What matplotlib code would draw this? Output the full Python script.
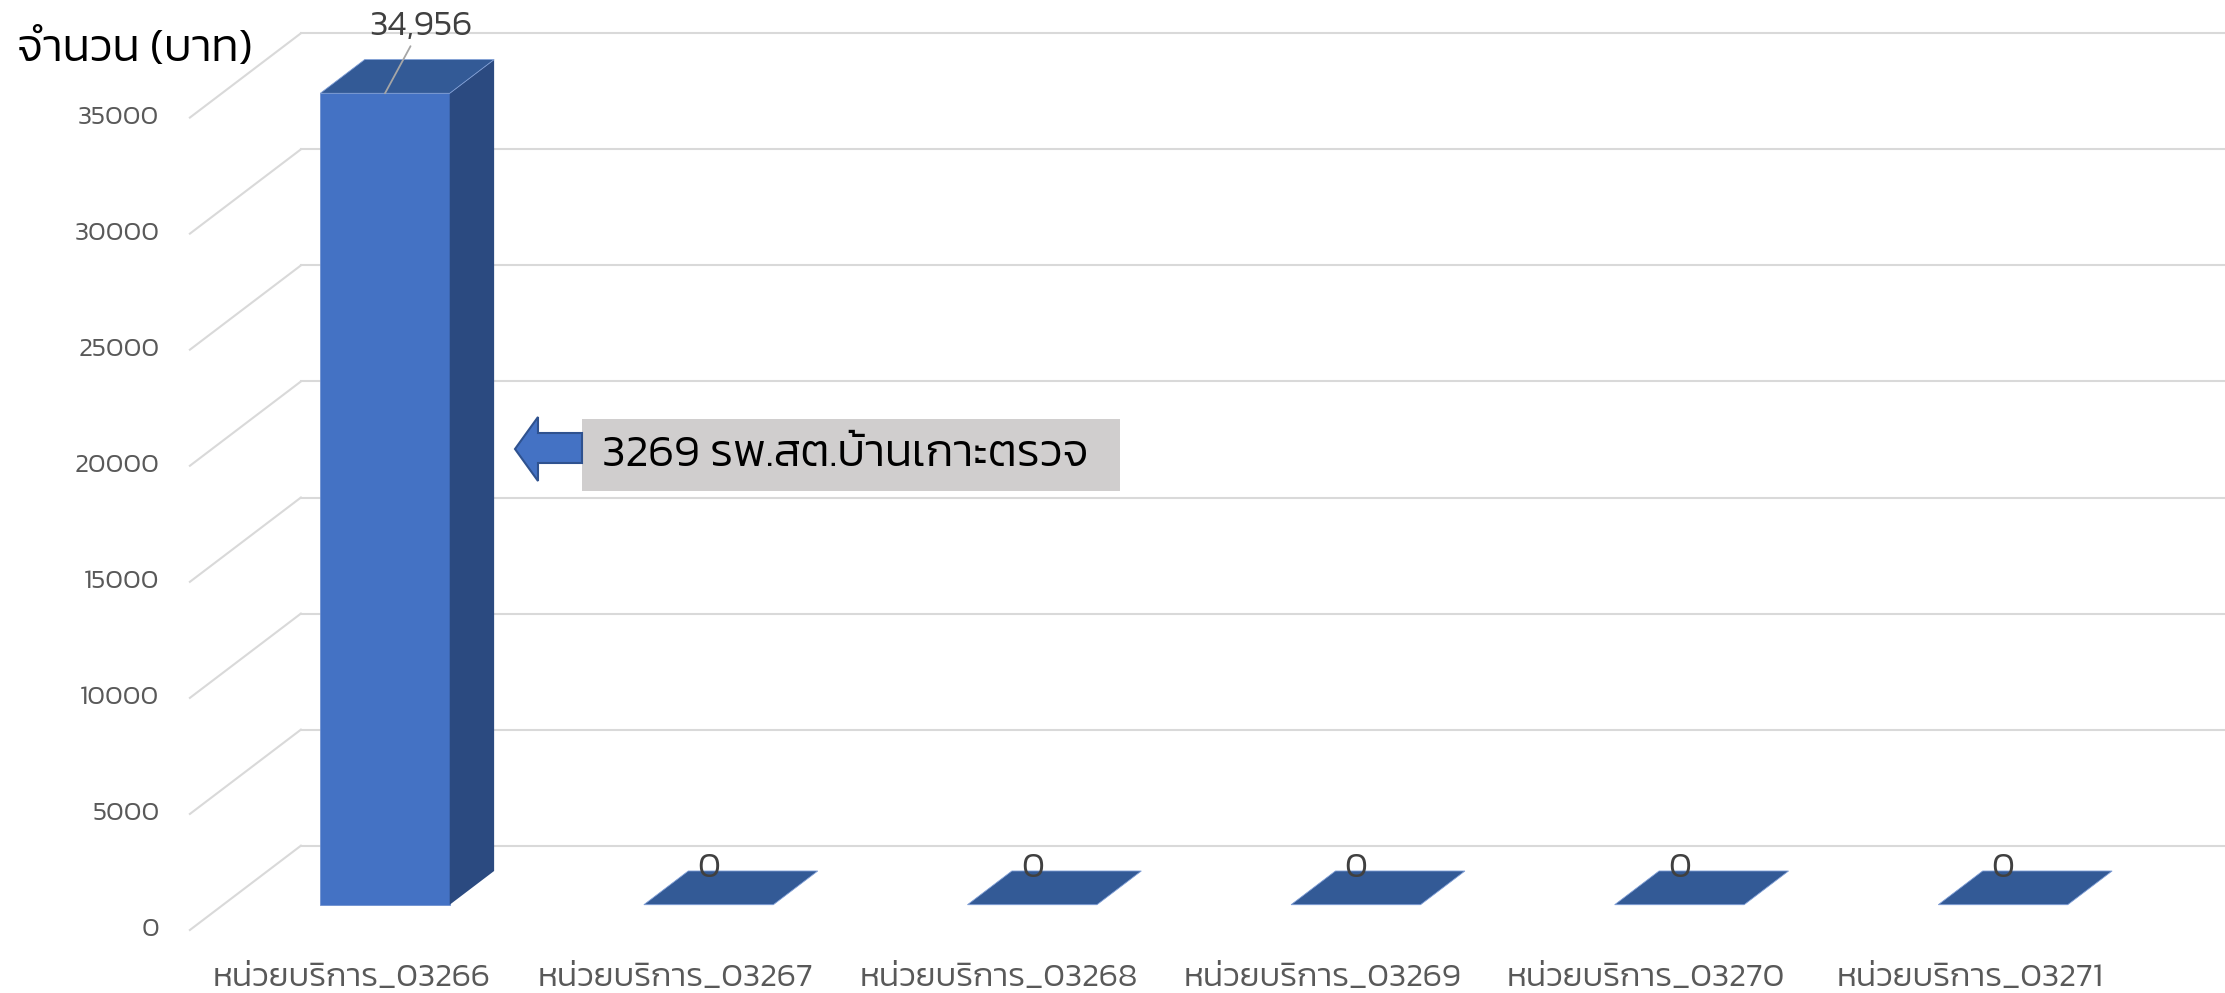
import matplotlib
matplotlib.use("Agg")
import matplotlib.pyplot as plt
from matplotlib.patches import Polygon, Rectangle

# data
categories = ["หน่วยบริการ_03266", "หน่วยบริการ_03267", "หน่วยบริการ_03268",
              "หน่วยบริการ_03269", "หน่วยบริการ_03270", "หน่วยบริการ_03271"]
values = [34956, 0, 0, 0, 0, 0]
value_labels = ["34,956", "0", "0", "0", "0", "0"]
y_ticks = [0, 5000, 10000, 15000, 20000, 25000, 30000, 35000]
y_title = "จำนวน (บาท)"
callout_text = "3269 รพ.สต.บ้านเกาะตรวจ"

W, H = 2225, 993
FONT = ["Kanit", "DejaVu Sans"]
WGT = 300  # Kanit Light

# pixel geometry of the back wall
px_cat = 323.6      # px per category
x0_px = 462.7       # px of category 0 on back wall
px_val = 116.06 / 5000
y0_px = 845.7       # px of value 0 on back wall
DX = -111 / px_cat  # depth shift (front face at t=1)
DY = -84.3 / px_val

fig = plt.figure(figsize=(W / 100, H / 100), dpi=100)
ax = fig.add_axes([0, 0, 1, 1])
ax.set_xlim(-x0_px / px_cat, (W - x0_px) / px_cat)
ax.set_ylim(-(H - y0_px) / px_val, y0_px / px_val)
ax.axis("off")
renderer = fig.canvas.get_renderer()


def proj(x, v, t):
    return x + t * DX, v + t * DY


def fit(txt, width_px):
    # scale font so the text is width_px wide
    w = txt.get_window_extent(renderer).width
    txt.set_fontsize(txt.get_fontsize() * width_px / w)


grid_c = "#D9D9D9"
for v in y_ticks:
    ax.plot([-0.5, 6], [v, v], color=grid_c, lw=1.5, zorder=1)
    xa, ya = proj(-0.5, v, 1)
    xb, yb = proj(-0.5, v, 0)
    ax.plot([xa, xb], [ya, yb], color=grid_c, lw=1.5, zorder=1)
    t = ax.annotate(str(v), (xa, ya), xytext=(-22, 0), textcoords="offset points",
                    ha="right", va="center", color="#595959", family=FONT,
                    fontweight=WGT, fontsize=18)
    if v == 35000:
        fit(t, 81)
        tick_fs = t.get_fontsize()
for t in ax.texts:
    t.set_fontsize(tick_fs)

# bars
front_c, side_c, top_c = "#4472C4", "#2B4A80", "#335A96"
bw = 0.2
t_front, t_back = 0.7, 0.3
for i, v in enumerate(values):
    xl, xr = i - bw, i + bw
    front = [proj(xl, 0, t_front), proj(xr, 0, t_front), proj(xr, v, t_front), proj(xl, v, t_front)]
    side = [proj(xr, 0, t_front), proj(xr, 0, t_back), proj(xr, v, t_back), proj(xr, v, t_front)]
    top = [proj(xl, v, t_front), proj(xr, v, t_front), proj(xr, v, t_back), proj(xl, v, t_back)]
    if v > 0:
        ax.add_patch(Polygon(front, closed=True, fc=front_c, ec="#6E90D0", lw=0.6, zorder=3))
        ax.add_patch(Polygon(side, closed=True, fc=side_c, ec="none", zorder=3))
    ax.add_patch(Polygon(top, closed=True, fc=top_c, ec="#7F9ED6", lw=0.6, zorder=3))

# value labels
lab_fs = None
for i, v in enumerate(values):
    x, y = proj(i, v, t_front)
    if v > 0:
        t = ax.annotate(value_labels[i], (x, y), xytext=(26, 48), textcoords="offset points",
                        ha="center", va="center", color="#404040", family=FONT,
                        fontweight=WGT, fontsize=24,
                        arrowprops=dict(arrowstyle="-", color="#A6A6A6", lw=1.3,
                                        shrinkA=16, shrinkB=0, patchA=None),
                        zorder=5)
        fit(t, 103)
        lab_fs = t.get_fontsize()
for i, v in enumerate(values):
    if v == 0:
        x, y = proj(i, v, t_front)
        ax.annotate(value_labels[i], (x, y), xytext=(0, 26), textcoords="offset points",
                    ha="center", va="center", color="#404040", family=FONT,
                    fontweight=WGT, fontsize=lab_fs, zorder=5)

# category labels on the front edge
cat_fs = None
for i, c in enumerate(categories):
    x, y = proj(i, 0, 1)
    t = ax.annotate(c, (x, y), xytext=(0, -35), textcoords="offset points",
                    ha="center", va="center", color="#595959", family=FONT,
                    fontweight=WGT, fontsize=cat_fs or 20)
    if cat_fs is None:
        fit(t, 278)
        cat_fs = t.get_fontsize()

# axis title
t = fig.text(17 / W, 1 - 50 / H, y_title, ha="left", va="center", color="black",
             family=FONT, fontweight=WGT, fontsize=26)
fit(t, 236)

# callout: arrow + grey box
box = Rectangle((582 / W, 1 - 491 / H), (1120 - 582) / W, 72 / H,
                transform=fig.transFigure, fc="#D0CECE", ec="none", zorder=6)
fig.patches.append(box)
arrow_px = [(515, 449), (538, 417), (538, 433), (582, 433), (582, 463), (538, 463), (538, 481)]
arrow = Polygon([(px / W, 1 - py / H) for px, py in arrow_px], closed=True,
                transform=fig.transFigure, fc="#4472C4", ec="#2F528F", lw=1.5, zorder=7)
fig.patches.append(arrow)
t = fig.text(602 / W, 1 - 455 / H, callout_text, ha="left", va="center", color="black",
             family=FONT, fontweight=WGT, fontsize=26, zorder=8)
fit(t, 486)

fig.savefig("out.png", dpi=100)
